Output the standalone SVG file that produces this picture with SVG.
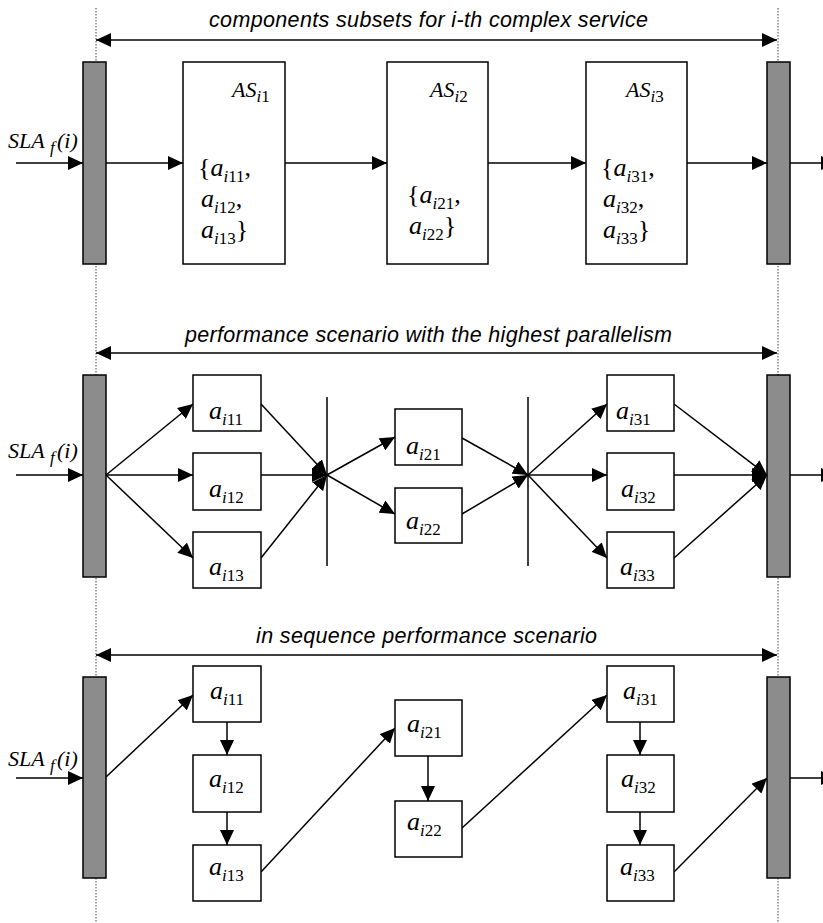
<svg xmlns="http://www.w3.org/2000/svg" width="823" height="923" viewBox="0 0 823 923">
<defs>
<marker id="ah" viewBox="0 0 15 14" refX="15" refY="7" markerWidth="15" markerHeight="14" markerUnits="userSpaceOnUse" orient="auto-start-reverse">
<path d="M0,0 L15,7 L0,14 z" fill="#000"/>
</marker>
<style>
.bg{fill:#fff}
.dot{stroke:#444;stroke-width:1;stroke-dasharray:1.5 1.5;fill:none}
.bar{fill:#8c8c8c;stroke:#000;stroke-width:1.5}
.box{fill:#fff;stroke:#000;stroke-width:1.5}
.c{stroke:#000;stroke-width:1.5;fill:none;marker-end:url(#ah)}
.d{stroke:#000;stroke-width:1.5;fill:none;marker-end:url(#ah);marker-start:url(#ah)}
.ln{stroke:#000;stroke-width:1.5;fill:none}
.t{font-family:"Liberation Sans",Arial,sans-serif;font-style:italic;font-size:21.5px;fill:#000}
.v{font-family:"Liberation Serif","Times New Roman",serif;font-style:italic;font-size:26px;fill:#000}
.w{font-family:"Liberation Serif","Times New Roman",serif;font-style:italic;font-size:22px;fill:#000}
.s{font-size:17px;font-style:italic}
.n{font-size:17px;font-style:normal}
.r{font-style:normal}
</style>
</defs>
<rect class="bg" x="0" y="0" width="823" height="923"/>

<g id="guides">
<line class="dot" x1="96" y1="8" x2="96" y2="923"/>
<line class="dot" x1="778" y1="8" x2="778" y2="923"/>
</g>

<g id="titles">
<text class="t" x="209" y="27" textLength="439" lengthAdjust="spacing">components subsets for i-th complex service</text>
<text class="t" x="185" y="342" textLength="487" lengthAdjust="spacing">performance scenario with the highest parallelism</text>
<text class="t" x="256" y="643" textLength="341" lengthAdjust="spacing">in sequence performance scenario</text>
</g>

<g id="connectors">
<line class="d" x1="96" y1="40" x2="777" y2="40"/>
<line class="d" x1="96" y1="353" x2="777" y2="353"/>
<line class="d" x1="96" y1="655" x2="777" y2="655"/>
<line class="c" x1="16" y1="163" x2="83" y2="163"/>
<line class="c" x1="106" y1="163" x2="183" y2="163"/>
<line class="c" x1="285" y1="163" x2="387" y2="163"/>
<line class="c" x1="486" y1="163" x2="586" y2="163"/>
<line class="c" x1="687" y1="163" x2="767" y2="163"/>
<line class="c" x1="790" y1="163" x2="836" y2="163"/>
<line class="ln" x1="327" y1="397" x2="327" y2="566"/>
<line class="ln" x1="528" y1="397" x2="528" y2="566"/>
<line class="c" x1="16" y1="475" x2="83" y2="475"/>
<line class="c" x1="106" y1="475" x2="193" y2="404"/>
<line class="c" x1="106" y1="475" x2="193" y2="475"/>
<line class="c" x1="106" y1="475" x2="193" y2="558"/>
<line class="c" x1="261" y1="404" x2="327" y2="475"/>
<line class="c" x1="261" y1="475" x2="327" y2="475"/>
<line class="c" x1="261" y1="558" x2="327" y2="475"/>
<line class="c" x1="327" y1="475" x2="395" y2="437"/>
<line class="c" x1="327" y1="475" x2="395" y2="514"/>
<line class="c" x1="462" y1="438" x2="528" y2="475"/>
<line class="c" x1="462" y1="514" x2="528" y2="475"/>
<line class="c" x1="528" y1="475" x2="607" y2="404"/>
<line class="c" x1="528" y1="475" x2="607" y2="475"/>
<line class="c" x1="528" y1="475" x2="607" y2="558"/>
<line class="c" x1="674" y1="404" x2="767" y2="475"/>
<line class="c" x1="674" y1="475" x2="767" y2="475"/>
<line class="c" x1="674" y1="558" x2="767" y2="475"/>
<line class="c" x1="790" y1="475" x2="836" y2="475"/>
<line class="c" x1="16" y1="778" x2="83" y2="778"/>
<line class="c" x1="106" y1="777" x2="193" y2="695"/>
<line class="c" x1="227" y1="722" x2="227" y2="755"/>
<line class="c" x1="227" y1="812" x2="227" y2="845"/>
<line class="c" x1="261" y1="872" x2="395" y2="728"/>
<line class="c" x1="428" y1="756" x2="428" y2="801"/>
<line class="c" x1="462" y1="828" x2="607" y2="695"/>
<line class="c" x1="640" y1="722" x2="640" y2="755"/>
<line class="c" x1="640" y1="812" x2="640" y2="845"/>
<line class="c" x1="674" y1="872" x2="767" y2="778"/>
<line class="c" x1="790" y1="778" x2="836" y2="778"/>
</g>

<g id="bar-top-left"><rect class="bar" x="83" y="62" width="23" height="202"/></g>
<g id="bar-top-right"><rect class="bar" x="767" y="62" width="23" height="202"/></g>
<g id="sla-top"><text class="w" x="8" y="148">SLA<tspan class="s" x="50" dy="5">f</tspan><tspan x="57" dy="-5">(i)</tspan></text></g>
<g id="AS1">
<rect class="box" x="183" y="62" width="102" height="202"/>
<text class="w" x="232" y="97">AS<tspan class="s" dy="5">i</tspan><tspan class="n">1</tspan></text>
<text class="v" x="198" y="176"><tspan class="r">{</tspan>a<tspan class="s" dy="6">i</tspan><tspan class="n">11</tspan><tspan class="r" dy="-6">,</tspan></text>
<text class="v" x="201" y="207">a<tspan class="s" dy="6">i</tspan><tspan class="n">12</tspan><tspan class="r" dy="-6">,</tspan></text>
<text class="v" x="201" y="238">a<tspan class="s" dy="6">i</tspan><tspan class="n">13</tspan><tspan class="r" dy="-6">}</tspan></text>
</g>
<g id="AS2">
<rect class="box" x="387" y="62" width="101" height="202"/>
<text class="w" x="430" y="97">AS<tspan class="s" dy="5">i</tspan><tspan class="n">2</tspan></text>
<text class="v" x="407" y="203"><tspan class="r">{</tspan>a<tspan class="s" dy="6">i</tspan><tspan class="n">21</tspan><tspan class="r" dy="-6">,</tspan></text>
<text class="v" x="409" y="234">a<tspan class="s" dy="6">i</tspan><tspan class="n">22</tspan><tspan class="r" dy="-6">}</tspan></text>
</g>
<g id="AS3">
<rect class="box" x="586" y="62" width="101" height="202"/>
<text class="w" x="626" y="97">AS<tspan class="s" dy="5">i</tspan><tspan class="n">3</tspan></text>
<text class="v" x="601" y="176"><tspan class="r">{</tspan>a<tspan class="s" dy="6">i</tspan><tspan class="n">31</tspan><tspan class="r" dy="-6">,</tspan></text>
<text class="v" x="603" y="207">a<tspan class="s" dy="6">i</tspan><tspan class="n">32</tspan><tspan class="r" dy="-6">,</tspan></text>
<text class="v" x="603" y="238">a<tspan class="s" dy="6">i</tspan><tspan class="n">33</tspan><tspan class="r" dy="-6">}</tspan></text>
</g>

<g id="bar-mid-left"><rect class="bar" x="83" y="375" width="23" height="202"/></g>
<g id="bar-mid-right"><rect class="bar" x="767" y="375" width="23" height="202"/></g>
<g id="sla-mid"><text class="w" x="8" y="458">SLA<tspan class="s" x="50" dy="5">f</tspan><tspan x="57" dy="-5">(i)</tspan></text></g>
<g id="p-a11"><rect class="box" x="193" y="375" width="68" height="56"/><text class="v" x="209" y="419">a<tspan class="s" dy="6">i</tspan><tspan class="n">11</tspan></text></g>
<g id="p-a12"><rect class="box" x="193" y="453" width="68" height="57"/><text class="v" x="209" y="497">a<tspan class="s" dy="6">i</tspan><tspan class="n">12</tspan></text></g>
<g id="p-a13"><rect class="box" x="193" y="532" width="68" height="56"/><text class="v" x="209" y="575">a<tspan class="s" dy="6">i</tspan><tspan class="n">13</tspan></text></g>
<g id="p-a21"><rect class="box" x="395" y="409" width="67" height="56"/><text class="v" x="406" y="454">a<tspan class="s" dy="6">i</tspan><tspan class="n">21</tspan></text></g>
<g id="p-a22"><rect class="box" x="395" y="488" width="67" height="55"/><text class="v" x="406" y="529">a<tspan class="s" dy="6">i</tspan><tspan class="n">22</tspan></text></g>
<g id="p-a31"><rect class="box" x="607" y="375" width="67" height="56"/><text class="v" x="616" y="419">a<tspan class="s" dy="6">i</tspan><tspan class="n">31</tspan></text></g>
<g id="p-a32"><rect class="box" x="607" y="453" width="67" height="57"/><text class="v" x="621" y="497">a<tspan class="s" dy="6">i</tspan><tspan class="n">32</tspan></text></g>
<g id="p-a33"><rect class="box" x="607" y="532" width="67" height="56"/><text class="v" x="620" y="575">a<tspan class="s" dy="6">i</tspan><tspan class="n">33</tspan></text></g>

<g id="bar-bot-left"><rect class="bar" x="83" y="677" width="23" height="201"/></g>
<g id="bar-bot-right"><rect class="bar" x="767" y="677" width="23" height="201"/></g>
<g id="sla-bot"><text class="w" x="8" y="766">SLA<tspan class="s" x="50" dy="5">f</tspan><tspan x="57" dy="-5">(i)</tspan></text></g>
<g id="s-a11"><rect class="box" x="193" y="666" width="68" height="56"/><text class="v" x="210" y="699">a<tspan class="s" dy="6">i</tspan><tspan class="n">11</tspan></text></g>
<g id="s-a12"><rect class="box" x="193" y="755" width="68" height="57"/><text class="v" x="209" y="787">a<tspan class="s" dy="6">i</tspan><tspan class="n">12</tspan></text></g>
<g id="s-a13"><rect class="box" x="193" y="845" width="68" height="56"/><text class="v" x="209" y="875">a<tspan class="s" dy="6">i</tspan><tspan class="n">13</tspan></text></g>
<g id="s-a21"><rect class="box" x="395" y="700" width="67" height="56"/><text class="v" x="407" y="732">a<tspan class="s" dy="6">i</tspan><tspan class="n">21</tspan></text></g>
<g id="s-a22"><rect class="box" x="395" y="801" width="67" height="56"/><text class="v" x="407" y="830">a<tspan class="s" dy="6">i</tspan><tspan class="n">22</tspan></text></g>
<g id="s-a31"><rect class="box" x="607" y="666" width="67" height="56"/><text class="v" x="623" y="699">a<tspan class="s" dy="6">i</tspan><tspan class="n">31</tspan></text></g>
<g id="s-a32"><rect class="box" x="607" y="755" width="67" height="57"/><text class="v" x="621" y="787">a<tspan class="s" dy="6">i</tspan><tspan class="n">32</tspan></text></g>
<g id="s-a33"><rect class="box" x="607" y="845" width="67" height="56"/><text class="v" x="620" y="875">a<tspan class="s" dy="6">i</tspan><tspan class="n">33</tspan></text></g>
</svg>
